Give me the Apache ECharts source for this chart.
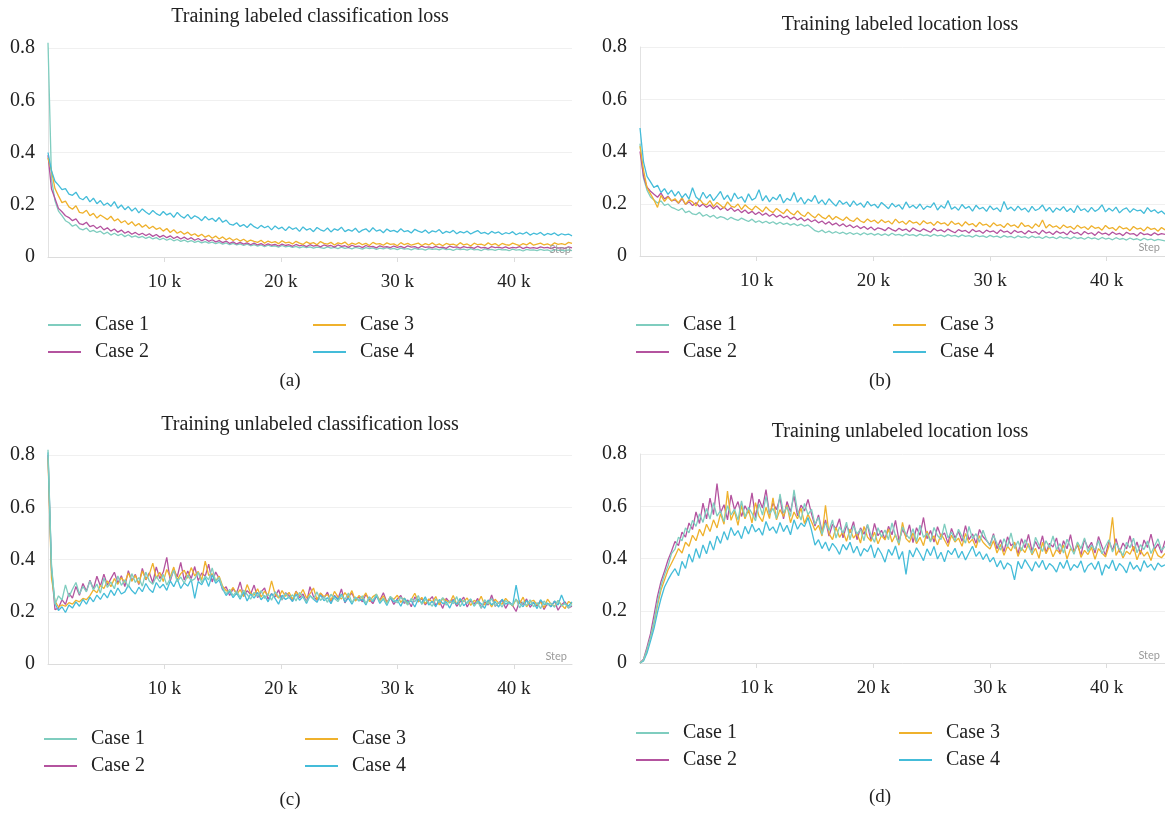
<!DOCTYPE html>
<html>
<head>
<meta charset="utf-8">
<script src="https://cdn.jsdelivr.net/npm/echarts@6/dist/echarts.min.js"></script>
<style>
html,body{margin:0;padding:0;background:#fff;}
#chart{width:1165px;height:821px;}
</style>
</head>
<body>
<div id="chart"></div>
<script>
const caseNames = ['Case 1', 'Case 2', 'Case 3', 'Case 4'];
const panelTitles = ['Training labeled classification loss', 'Training labeled location loss', 'Training unlabeled classification loss', 'Training unlabeled location loss'];
const captions = ['(a)', '(b)', '(c)', '(d)'];
const xTickValues = [10000, 20000, 30000, 40000];
const yTickValues = [0, 0.2, 0.4, 0.6, 0.8];

const steps = [
0,300,600,900,1200,1500,1800,2100,2400,2700,
3000,3300,3600,3900,4200,4500,4800,5100,5400,5700,
6000,6300,6600,6900,7200,7500,7800,8100,8400,8700,
9000,9300,9600,9900,10200,10500,10800,11100,11400,11700,
12000,12300,12600,12900,13200,13500,13800,14100,14400,14700,
15000,15300,15600,15900,16200,16500,16800,17100,17400,17700,
18000,18300,18600,18900,19200,19500,19800,20100,20400,20700,
21000,21300,21600,21900,22200,22500,22800,23100,23400,23700,
24000,24300,24600,24900,25200,25500,25800,26100,26400,26700,
27000,27300,27600,27900,28200,28500,28800,29100,29400,29700,
30000,30300,30600,30900,31200,31500,31800,32100,32400,32700,
33000,33300,33600,33900,34200,34500,34800,35100,35400,35700,
36000,36300,36600,36900,37200,37500,37800,38100,38400,38700,
39000,39300,39600,39900,40200,40500,40800,41100,41400,41700,
42000,42300,42600,42900,43200,43500,43800,44100,44400,44700,
45000];

// (a) Training labeled classification loss
const labeledClsCase1 = [
0.82,0.3,0.215,0.176,0.158,0.139,0.131,0.118,0.124,0.109,
0.104,0.111,0.097,0.102,0.094,0.099,0.088,0.095,0.084,0.091,
0.082,0.088,0.078,0.085,0.076,0.081,0.074,0.079,0.071,0.077,
0.069,0.074,0.066,0.072,0.064,0.07,0.062,0.067,0.06,0.065,
0.058,0.063,0.056,0.061,0.054,0.059,0.053,0.057,0.051,0.056,
0.049,0.054,0.047,0.052,0.046,0.05,0.044,0.049,0.043,0.047,
0.042,0.046,0.04,0.045,0.041,0.043,0.038,0.044,0.039,0.042,
0.037,0.041,0.035,0.04,0.036,0.039,0.034,0.038,0.036,0.033,
0.039,0.034,0.037,0.032,0.038,0.033,0.036,0.031,0.037,0.034,
0.03,0.036,0.032,0.035,0.029,0.034,0.031,0.036,0.03,0.033,
0.028,0.034,0.03,0.032,0.027,0.033,0.029,0.031,0.026,0.032,
0.029,0.031,0.027,0.033,0.028,0.03,0.025,0.031,0.028,0.03,
0.026,0.032,0.027,0.029,0.024,0.031,0.027,0.029,0.025,0.03,
0.027,0.028,0.024,0.03,0.026,0.028,0.023,0.029,0.026,0.027,
0.024,0.029,0.025,0.027,0.022,0.028,0.025,0.026,0.023,0.027,
0.024];
const labeledClsCase2 = [
0.39,0.26,0.224,0.186,0.173,0.158,0.151,0.139,0.146,0.128,
0.124,0.133,0.116,0.121,0.109,0.118,0.104,0.112,0.099,0.107,
0.095,0.103,0.091,0.098,0.087,0.094,0.085,0.091,0.082,0.089,
0.079,0.086,0.076,0.083,0.074,0.081,0.071,0.078,0.069,0.076,
0.067,0.074,0.064,0.071,0.062,0.069,0.06,0.066,0.058,0.063,
0.055,0.061,0.052,0.058,0.05,0.056,0.049,0.054,0.047,0.053,
0.046,0.051,0.044,0.05,0.045,0.048,0.042,0.049,0.044,0.047,
0.041,0.048,0.043,0.046,0.04,0.047,0.042,0.045,0.039,0.046,
0.042,0.044,0.038,0.046,0.041,0.043,0.037,0.045,0.04,0.042,
0.036,0.044,0.039,0.041,0.035,0.043,0.038,0.04,0.036,0.042,
0.037,0.041,0.035,0.043,0.038,0.04,0.034,0.042,0.037,0.039,
0.035,0.041,0.036,0.038,0.033,0.042,0.037,0.039,0.034,0.04,
0.036,0.038,0.033,0.041,0.035,0.037,0.032,0.04,0.036,0.038,
0.034,0.039,0.033,0.037,0.035,0.04,0.032,0.038,0.034,0.036,
0.033,0.039,0.035,0.037,0.032,0.038,0.034,0.036,0.033,0.039,
0.035];
const labeledClsCase3 = [
0.38,0.33,0.262,0.234,0.208,0.214,0.192,0.183,0.196,0.171,
0.168,0.179,0.158,0.167,0.149,0.161,0.152,0.143,0.156,0.138,
0.146,0.131,0.139,0.124,0.135,0.119,0.128,0.114,0.123,0.109,
0.118,0.106,0.112,0.099,0.109,0.094,0.104,0.091,0.098,0.087,
0.095,0.083,0.089,0.079,0.087,0.076,0.083,0.072,0.08,0.069,
0.077,0.066,0.073,0.063,0.07,0.061,0.068,0.058,0.065,0.06,
0.056,0.064,0.053,0.061,0.055,0.059,0.051,0.062,0.054,0.057,
0.05,0.06,0.053,0.048,0.058,0.051,0.055,0.047,0.059,0.052,
0.049,0.056,0.046,0.054,0.05,0.057,0.045,0.053,0.048,0.055,
0.047,0.052,0.044,0.056,0.049,0.051,0.045,0.054,0.048,0.05,
0.043,0.055,0.047,0.052,0.045,0.049,0.053,0.044,0.051,0.046,
0.054,0.045,0.05,0.043,0.052,0.047,0.049,0.044,0.055,0.046,
0.05,0.042,0.053,0.047,0.049,0.044,0.054,0.046,0.051,0.043,
0.052,0.047,0.045,0.053,0.048,0.044,0.051,0.046,0.055,0.045,
0.049,0.053,0.046,0.05,0.044,0.054,0.048,0.051,0.047,0.056,
0.052];
const labeledClsCase4 = [
0.40,0.33,0.29,0.275,0.258,0.262,0.241,0.236,0.248,0.226,
0.219,0.232,0.211,0.225,0.204,0.216,0.198,0.207,0.194,0.212,
0.187,0.199,0.181,0.193,0.176,0.188,0.169,0.184,0.172,0.163,
0.178,0.166,0.159,0.174,0.161,0.168,0.152,0.171,0.157,0.149,
0.163,0.146,0.158,0.151,0.139,0.155,0.142,0.148,0.136,0.151,
0.133,0.141,0.126,0.122,0.131,0.117,0.124,0.113,0.127,0.116,
0.109,0.121,0.112,0.118,0.104,0.119,0.108,0.114,0.101,0.116,
0.106,0.112,0.098,0.115,0.103,0.109,0.097,0.113,0.104,0.099,
0.111,0.096,0.108,0.102,0.114,0.097,0.105,0.099,0.11,0.094,
0.103,0.108,0.096,0.112,0.099,0.104,0.093,0.107,0.098,0.102,
0.095,0.108,0.097,0.101,0.092,0.106,0.099,0.094,0.103,0.091,
0.1,0.096,0.105,0.09,0.098,0.093,0.102,0.089,0.097,0.092,
0.099,0.088,0.095,0.101,0.09,0.094,0.087,0.098,0.091,0.096,
0.086,0.093,0.089,0.097,0.085,0.092,0.088,0.095,0.084,0.091,
0.087,0.094,0.083,0.09,0.086,0.092,0.082,0.089,0.085,0.088,
0.081];

// (b) Training labeled location loss
const labeledLocCase1 = [
0.43,0.298,0.252,0.226,0.214,0.203,0.211,0.194,0.199,0.186,
0.181,0.174,0.183,0.166,0.172,0.161,0.158,0.167,0.152,0.159,
0.149,0.156,0.144,0.151,0.147,0.139,0.148,0.141,0.136,0.145,
0.138,0.132,0.141,0.129,0.135,0.127,0.133,0.125,0.131,0.122,
0.129,0.121,0.126,0.118,0.124,0.116,0.122,0.114,0.119,0.108,
0.097,0.092,0.099,0.089,0.095,0.087,0.093,0.086,0.091,0.084,
0.09,0.083,0.088,0.081,0.089,0.082,0.087,0.08,0.086,0.079,
0.085,0.078,0.087,0.08,0.083,0.077,0.085,0.079,0.082,0.076,
0.084,0.078,0.081,0.075,0.083,0.077,0.08,0.074,0.082,0.076,
0.079,0.073,0.081,0.075,0.078,0.072,0.08,0.074,0.077,0.071,
0.079,0.073,0.076,0.07,0.078,0.072,0.075,0.069,0.077,0.071,
0.074,0.068,0.076,0.07,0.073,0.067,0.075,0.069,0.072,0.066,
0.074,0.068,0.071,0.065,0.073,0.067,0.07,0.064,0.072,0.066,
0.069,0.063,0.071,0.065,0.068,0.062,0.07,0.064,0.067,0.061,
0.069,0.063,0.066,0.06,0.068,0.062,0.065,0.059,0.064,0.061,
0.058];
const labeledLocCase2 = [
0.4,0.305,0.263,0.248,0.236,0.225,0.241,0.218,0.229,0.211,
0.215,0.202,0.219,0.197,0.208,0.193,0.204,0.189,0.199,0.186,
0.195,0.181,0.192,0.177,0.188,0.174,0.185,0.171,0.179,0.166,
0.176,0.163,0.171,0.159,0.168,0.156,0.164,0.152,0.161,0.149,
0.157,0.146,0.153,0.141,0.149,0.138,0.146,0.134,0.142,0.131,
0.139,0.127,0.134,0.122,0.131,0.119,0.126,0.115,0.123,0.112,
0.119,0.108,0.116,0.105,0.113,0.102,0.111,0.099,0.108,0.104,
0.097,0.109,0.101,0.095,0.106,0.098,0.103,0.093,0.107,0.099,
0.094,0.104,0.097,0.091,0.105,0.096,0.1,0.092,0.103,0.095,
0.089,0.101,0.094,0.098,0.088,0.102,0.093,0.097,0.087,0.099,
0.092,0.096,0.086,0.1,0.091,0.095,0.085,0.098,0.09,0.094,
0.084,0.097,0.089,0.093,0.083,0.099,0.088,0.092,0.082,0.095,
0.087,0.091,0.081,0.096,0.086,0.09,0.08,0.094,0.085,0.089,
0.079,0.093,0.084,0.088,0.08,0.092,0.083,0.087,0.078,0.091,
0.084,0.086,0.077,0.09,0.082,0.085,0.079,0.089,0.081,0.086,
0.083];
const labeledLocCase3 = [
0.42,0.33,0.262,0.238,0.214,0.186,0.232,0.209,0.226,0.211,
0.219,0.203,0.224,0.198,0.215,0.207,0.192,0.218,0.201,0.196,
0.212,0.189,0.205,0.194,0.183,0.207,0.191,0.186,0.199,0.178,
0.196,0.184,0.175,0.191,0.181,0.169,0.188,0.174,0.166,0.182,
0.171,0.162,0.179,0.165,0.157,0.173,0.159,0.151,0.168,0.155,
0.146,0.161,0.149,0.142,0.156,0.139,0.151,0.143,0.136,0.149,
0.137,0.132,0.146,0.134,0.128,0.142,0.131,0.137,0.125,0.139,
0.128,0.134,0.122,0.141,0.127,0.133,0.121,0.136,0.126,0.13,
0.119,0.135,0.124,0.129,0.117,0.132,0.123,0.127,0.116,0.133,
0.121,0.126,0.114,0.131,0.119,0.124,0.112,0.129,0.118,0.122,
0.111,0.127,0.116,0.12,0.109,0.125,0.114,0.119,0.108,0.128,
0.113,0.117,0.106,0.123,0.112,0.138,0.107,0.121,0.11,0.115,
0.104,0.119,0.109,0.113,0.102,0.118,0.107,0.112,0.101,0.116,
0.106,0.11,0.099,0.117,0.105,0.109,0.098,0.114,0.104,0.108,
0.097,0.113,0.103,0.107,0.096,0.111,0.102,0.106,0.095,0.109,
0.1];
const labeledLocCase4 = [
0.49,0.36,0.305,0.284,0.262,0.271,0.243,0.258,0.236,0.252,
0.229,0.247,0.223,0.239,0.218,0.261,0.226,0.214,0.244,0.221,
0.236,0.212,0.229,0.247,0.216,0.233,0.209,0.241,0.219,0.227,
0.205,0.238,0.214,0.222,0.254,0.211,0.231,0.207,0.225,0.215,
0.236,0.203,0.221,0.212,0.243,0.206,0.224,0.199,0.218,0.209,
0.232,0.201,0.215,0.196,0.219,0.204,0.191,0.213,0.198,0.207,
0.189,0.211,0.194,0.203,0.186,0.209,0.192,0.198,0.184,0.205,
0.193,0.181,0.202,0.188,0.196,0.179,0.207,0.185,0.194,0.182,
0.199,0.178,0.191,0.186,0.204,0.176,0.193,0.183,0.212,0.179,
0.188,0.175,0.197,0.182,0.19,0.172,0.194,0.18,0.186,0.171,
0.192,0.177,0.184,0.169,0.209,0.178,0.187,0.173,0.191,0.176,
0.183,0.168,0.19,0.174,0.181,0.195,0.172,0.186,0.167,0.184,
0.175,0.189,0.17,0.182,0.166,0.193,0.174,0.181,0.168,0.186,
0.171,0.179,0.196,0.169,0.183,0.172,0.187,0.165,0.178,0.184,
0.167,0.181,0.173,0.176,0.163,0.185,0.17,0.177,0.164,0.172,
0.16];

// (c) Training unlabeled classification loss
const unlabeledClsCase1 = [
0.82,0.38,0.228,0.261,0.245,0.303,0.257,0.286,0.312,0.268,
0.297,0.276,0.318,0.284,0.306,0.271,0.329,0.293,0.314,0.288,
0.337,0.301,0.322,0.294,0.346,0.312,0.331,0.298,0.352,0.318,
0.305,0.336,0.314,0.343,0.302,0.327,0.359,0.315,0.333,0.309,
0.341,0.318,0.326,0.351,0.311,0.337,0.322,0.368,0.316,0.331,
0.292,0.268,0.286,0.262,0.279,0.255,0.283,0.266,0.248,0.274,
0.259,0.281,0.251,0.269,0.244,0.277,0.258,0.246,0.271,0.253,
0.265,0.241,0.274,0.256,0.238,0.262,0.249,0.276,0.243,0.258,
0.236,0.267,0.251,0.239,0.263,0.247,0.272,0.235,0.256,0.244,
0.261,0.232,0.254,0.243,0.268,0.237,0.252,0.229,0.259,0.245,
0.234,0.256,0.241,0.226,0.251,0.238,0.262,0.228,0.247,0.235,
0.221,0.249,0.236,0.254,0.225,0.242,0.231,0.258,0.219,0.245,
0.232,0.248,0.223,0.239,0.214,0.246,0.229,0.251,0.222,0.237,
0.218,0.243,0.231,0.226,0.249,0.215,0.238,0.224,0.246,0.219,
0.235,0.212,0.241,0.226,0.233,0.217,0.244,0.222,0.231,0.214,
0.228];
const unlabeledClsCase2 = [
0.8,0.36,0.208,0.214,0.246,0.228,0.271,0.252,0.297,0.263,
0.308,0.279,0.321,0.287,0.336,0.298,0.344,0.302,0.327,0.351,
0.309,0.338,0.296,0.357,0.318,0.343,0.304,0.366,0.322,0.349,
0.311,0.372,0.327,0.352,0.408,0.318,0.361,0.334,0.389,0.321,
0.356,0.327,0.373,0.319,0.348,0.336,0.382,0.314,0.352,0.327,
0.283,0.296,0.262,0.288,0.271,0.314,0.259,0.281,0.267,0.302,
0.254,0.276,0.291,0.248,0.269,0.257,0.284,0.245,0.273,0.262,
0.241,0.279,0.253,0.268,0.236,0.296,0.258,0.244,0.271,0.252,
0.275,0.239,0.262,0.249,0.287,0.234,0.259,0.271,0.243,0.256,
0.238,0.266,0.247,0.231,0.259,0.244,0.273,0.236,0.255,0.228,
0.249,0.262,0.232,0.245,0.219,0.257,0.238,0.251,0.226,0.243,
0.258,0.224,0.241,0.213,0.252,0.235,0.247,0.221,0.239,0.256,
0.218,0.243,0.229,0.251,0.214,0.238,0.226,0.264,0.221,0.234,
0.246,0.213,0.237,0.224,0.201,0.242,0.228,0.249,0.217,0.235,
0.222,0.244,0.209,0.232,0.219,0.241,0.206,0.227,0.238,0.215,
0.221];
const unlabeledClsCase3 = [
0.79,0.33,0.241,0.218,0.226,0.221,0.235,0.229,0.244,0.238,
0.251,0.246,0.262,0.284,0.273,0.301,0.289,0.318,0.296,0.327,
0.305,0.331,0.312,0.348,0.317,0.339,0.308,0.356,0.324,0.343,
0.386,0.329,0.351,0.316,0.362,0.334,0.371,0.322,0.346,0.359,
0.328,0.369,0.337,0.354,0.321,0.394,0.339,0.345,0.318,0.336,
0.298,0.281,0.274,0.293,0.266,0.285,0.259,0.304,0.271,0.263,
0.288,0.256,0.279,0.262,0.318,0.268,0.252,0.281,0.259,0.274,
0.248,0.277,0.261,0.285,0.253,0.269,0.291,0.246,0.272,0.258,
0.266,0.243,0.278,0.257,0.249,0.273,0.254,0.281,0.241,0.262,
0.251,0.272,0.239,0.258,0.267,0.243,0.261,0.234,0.256,0.248,
0.263,0.236,0.252,0.229,0.247,0.271,0.238,0.255,0.231,0.249,
0.237,0.258,0.226,0.251,0.243,0.234,0.262,0.228,0.246,0.239,
0.253,0.224,0.244,0.232,0.259,0.226,0.241,0.218,0.248,0.233,
0.229,0.251,0.236,0.222,0.247,0.231,0.256,0.219,0.238,0.244,
0.226,0.237,0.215,0.248,0.229,0.221,0.243,0.226,0.212,0.239,
0.231];
const unlabeledClsCase4 = [
0.81,0.37,0.232,0.205,0.219,0.197,0.226,0.214,0.238,0.221,
0.247,0.229,0.256,0.238,0.264,0.247,0.271,0.253,0.283,0.262,
0.291,0.268,0.276,0.302,0.281,0.268,0.294,0.277,0.308,0.286,
0.274,0.312,0.291,0.305,0.282,0.318,0.296,0.326,0.289,0.311,
0.298,0.324,0.251,0.316,0.303,0.331,0.297,0.342,0.309,0.322,
0.287,0.262,0.279,0.254,0.271,0.248,0.276,0.241,0.268,0.252,
0.274,0.246,0.262,0.238,0.269,0.251,0.229,0.263,0.247,0.256,
0.239,0.267,0.244,0.258,0.232,0.261,0.248,0.236,0.264,0.242,
0.254,0.231,0.259,0.246,0.268,0.237,0.252,0.229,0.256,0.241,
0.248,0.226,0.257,0.239,0.262,0.232,0.249,0.224,0.253,0.238,
0.245,0.221,0.252,0.236,0.242,0.218,0.249,0.233,0.257,0.226,
0.24,0.219,0.247,0.231,0.238,0.214,0.244,0.228,0.251,0.223,
0.236,0.249,0.221,0.242,0.231,0.213,0.245,0.226,0.239,0.218,
0.248,0.229,0.237,0.224,0.302,0.232,0.219,0.243,0.227,0.236,
0.212,0.246,0.228,0.233,0.219,0.241,0.226,0.264,0.231,0.222,
0.238];

// (d) Training unlabeled location loss
const unlabeledLocCase1 = [
0,0.012,0.052,0.098,0.158,0.232,0.294,0.338,0.371,0.419,
0.436,0.482,0.468,0.517,0.498,0.546,0.523,0.571,0.538,0.592,
0.551,0.614,0.562,0.583,0.541,0.602,0.567,0.589,0.548,0.621,
0.559,0.596,0.573,0.544,0.609,0.566,0.638,0.571,0.592,0.553,
0.647,0.574,0.598,0.561,0.663,0.582,0.547,0.611,0.568,0.589,
0.531,0.558,0.492,0.536,0.507,0.548,0.478,0.521,0.497,0.539,
0.471,0.526,0.494,0.512,0.468,0.531,0.489,0.462,0.518,0.483,
0.509,0.472,0.536,0.487,0.458,0.521,0.493,0.476,0.514,0.465,
0.528,0.481,0.497,0.463,0.519,0.488,0.472,0.532,0.479,0.501,
0.467,0.512,0.484,0.459,0.523,0.476,0.495,0.462,0.508,0.471,
0.448,0.489,0.457,0.432,0.476,0.445,0.498,0.438,0.467,0.429,
0.472,0.446,0.419,0.481,0.452,0.427,0.468,0.441,0.486,0.434,
0.457,0.421,0.474,0.445,0.416,0.463,0.438,0.479,0.426,0.451,
0.432,0.469,0.418,0.447,0.472,0.425,0.458,0.436,0.411,0.462,
0.441,0.478,0.422,0.453,0.434,0.467,0.419,0.448,0.475,0.431,
0.446];
const unlabeledLocCase2 = [
0,0.015,0.061,0.112,0.183,0.256,0.312,0.351,0.394,0.428,
0.465,0.449,0.501,0.482,0.536,0.511,0.578,0.534,0.612,0.552,
0.631,0.568,0.687,0.574,0.606,0.548,0.643,0.587,0.618,0.561,
0.602,0.574,0.651,0.556,0.627,0.593,0.664,0.568,0.612,0.587,
0.633,0.552,0.618,0.579,0.641,0.563,0.604,0.582,0.626,0.571,
0.524,0.567,0.503,0.548,0.486,0.531,0.514,0.552,0.479,0.526,
0.498,0.541,0.472,0.517,0.493,0.528,0.469,0.534,0.487,0.508,
0.474,0.523,0.491,0.546,0.468,0.512,0.483,0.529,0.461,0.518,
0.489,0.557,0.476,0.507,0.463,0.522,0.484,0.498,0.458,0.515,
0.479,0.503,0.466,0.526,0.472,0.494,0.458,0.511,0.483,0.469,
0.452,0.495,0.437,0.472,0.426,0.483,0.449,0.461,0.418,0.476,
0.441,0.492,0.428,0.465,0.436,0.487,0.422,0.458,0.444,0.479,
0.417,0.468,0.437,0.491,0.425,0.452,0.414,0.473,0.439,0.462,
0.421,0.484,0.446,0.412,0.468,0.431,0.476,0.424,0.459,0.437,
0.487,0.428,0.463,0.416,0.471,0.442,0.493,0.435,0.456,0.421,
0.468];
const unlabeledLocCase3 = [
0,0.01,0.048,0.094,0.152,0.221,0.279,0.318,0.356,0.382,
0.409,0.438,0.421,0.462,0.447,0.489,0.468,0.512,0.486,0.531,
0.503,0.548,0.517,0.572,0.531,0.658,0.546,0.581,0.527,0.603,
0.552,0.587,0.536,0.614,0.562,0.541,0.596,0.553,0.632,0.548,
0.587,0.561,0.604,0.537,0.578,0.552,0.593,0.534,0.569,0.541,
0.508,0.527,0.486,0.604,0.495,0.472,0.519,0.481,0.503,0.466,
0.512,0.478,0.497,0.459,0.523,0.482,0.466,0.501,0.456,0.488,
0.471,0.513,0.463,0.492,0.451,0.538,0.476,0.462,0.498,0.457,
0.481,0.449,0.505,0.468,0.487,0.452,0.494,0.471,0.446,0.489,
0.463,0.478,0.447,0.496,0.459,0.474,0.441,0.487,0.462,0.448,
0.436,0.468,0.421,0.454,0.412,0.447,0.429,0.463,0.408,0.441,
0.423,0.457,0.414,0.439,0.401,0.462,0.418,0.446,0.407,0.435,
0.419,0.452,0.398,0.437,0.426,0.459,0.404,0.431,0.415,0.443,
0.397,0.438,0.421,0.406,0.449,0.558,0.412,0.437,0.402,0.428,
0.416,0.447,0.395,0.431,0.409,0.425,0.392,0.438,0.411,0.403,
0.419];
const unlabeledLocCase4 = [
0,0.008,0.038,0.084,0.132,0.194,0.247,0.291,0.318,0.342,
0.361,0.334,0.389,0.362,0.417,0.386,0.438,0.401,0.452,0.418,
0.467,0.432,0.486,0.458,0.503,0.471,0.519,0.488,0.507,0.476,
0.523,0.494,0.531,0.502,0.516,0.489,0.542,0.507,0.521,0.496,
0.538,0.503,0.527,0.491,0.548,0.512,0.536,0.522,0.557,0.509,
0.451,0.472,0.438,0.463,0.429,0.458,0.441,0.416,0.454,0.433,
0.462,0.421,0.447,0.409,0.438,0.426,0.452,0.403,0.441,0.418,
0.386,0.435,0.412,0.448,0.397,0.427,0.339,0.432,0.406,0.441,
0.418,0.392,0.437,0.411,0.446,0.398,0.424,0.387,0.431,0.415,
0.439,0.402,0.428,0.394,0.421,0.447,0.408,0.426,0.396,0.418,
0.387,0.404,0.368,0.392,0.359,0.383,0.372,0.318,0.389,0.361,
0.396,0.374,0.352,0.388,0.366,0.393,0.357,0.381,0.369,0.348,
0.386,0.362,0.394,0.354,0.377,0.365,0.391,0.347,0.372,0.383,
0.358,0.389,0.336,0.376,0.362,0.394,0.353,0.381,0.368,0.345,
0.387,0.359,0.374,0.351,0.392,0.366,0.378,0.355,0.383,0.369,
0.376];

const panelData = [
  [labeledClsCase1, labeledClsCase2, labeledClsCase3, labeledClsCase4],
  [labeledLocCase1, labeledLocCase2, labeledLocCase3, labeledLocCase4],
  [unlabeledClsCase1, unlabeledClsCase2, unlabeledClsCase3, unlabeledClsCase4],
  [unlabeledLocCase1, unlabeledLocCase2, unlabeledLocCase3, unlabeledLocCase4]
];

const caseColors = ['#7fcdbf', '#b4539f', '#efb12c', '#44bcd9'];
const serif = '"Liberation Serif", "DejaVu Serif", serif';

// layout (pixels)
const grids = [
  {left: 48, top: 48, width: 524, height: 209},
  {left: 640, top: 47, width: 525, height: 209},
  {left: 48, top: 455, width: 524, height: 209},
  {left: 640, top: 454, width: 525, height: 209}
];
const titlePos = [[310, 17], [900, 25], [310, 425], [900, 432]];
const captionPos = [[290, 381], [880, 381], [290, 800], [880, 797]];
const stepPos = [[571, 249], [1160, 247], [567, 656], [1160, 655]];
const legendPos = [
  [[48, 315], [313, 315]],
  [[636, 315], [893, 315]],
  [[44, 729], [305, 729]],
  [[636, 723], [899, 723]]
];

const chart = echarts.init(document.getElementById('chart'), null, {renderer: 'canvas'});

const xAxes = [], yAxes = [], series = [], legends = [], graphics = [];
for (let p = 0; p < 4; p++) {
  xAxes.push({
    type: 'value', gridIndex: p, min: 0, max: 45000, interval: 10000,
    axisLine: {show: true, lineStyle: {color: '#dcdcdc', width: 1}},
    axisTick: {show: true, length: 5, lineStyle: {color: '#dcdcdc'}},
    axisLabel: {
      showMinLabel: false, showMaxLabel: false, margin: 16,
      fontFamily: serif, fontSize: 19, color: '#222',
      formatter: v => (xTickValues.indexOf(v) >= 0 ? (v / 1000) + ' k' : '')
    },
    splitLine: {show: false}
  });
  yAxes.push({
    type: 'value', gridIndex: p, min: 0, max: 0.8, interval: 0.2,
    axisLine: {show: true, lineStyle: {color: '#e2e2e2', width: 1}},
    axisTick: {show: false},
    axisLabel: {
      margin: 13, fontFamily: serif, fontSize: 20, color: '#222',
      formatter: v => (yTickValues.indexOf(Math.round(v * 10) / 10) >= 0 ? (v === 0 ? '0' : v.toFixed(1)) : '')
    },
    splitLine: {show: true, lineStyle: {color: '#f0f0f0', width: 1}}
  });
  for (let k = 0; k < 4; k++) {
    const vals = panelData[p][k];
    series.push({
      type: 'line', name: caseNames[k], xAxisIndex: p, yAxisIndex: p,
      data: steps.map((s, i) => [s, vals[i]]),
      symbol: 'none', clip: false, animation: false,
      z: (p >= 2 && k === 0) ? 4 : 2 + k * 0.1,
      lineStyle: {color: caseColors[k], width: 1.3},
      itemStyle: {color: caseColors[k]}
    });
  }
  for (let c = 0; c < 2; c++) {
    legends.push({
      orient: 'vertical', left: legendPos[p][c][0], top: legendPos[p][c][1],
      padding: 0, itemGap: 7, itemWidth: 33, itemHeight: 2, icon: 'rect',
      data: [caseNames[c * 2], caseNames[c * 2 + 1]],
      textStyle: {fontFamily: serif, fontSize: 20, color: '#222', lineHeight: 20, padding: [0, 0, 0, 9]},
      selectedMode: false
    });
  }
  graphics.push({
    type: 'text', x: titlePos[p][0], y: titlePos[p][1],
    style: {text: panelTitles[p], font: '20px ' + serif, fill: '#222', textAlign: 'center', textVerticalAlign: 'middle'}
  });
  graphics.push({
    type: 'text', x: captionPos[p][0], y: captionPos[p][1],
    style: {text: captions[p], font: '19px ' + serif, fill: '#222', textAlign: 'center', textVerticalAlign: 'middle'}
  });
  graphics.push({
    type: 'text', x: stepPos[p][0], y: stepPos[p][1], z: 10,
    style: {text: 'Step', font: '11px Lato, "Open Sans", sans-serif', fill: '#9a9a9a', textAlign: 'right', textVerticalAlign: 'middle'}
  });
}

chart.setOption({
  backgroundColor: '#ffffff',
  animation: false,
  grid: grids,
  xAxis: xAxes,
  yAxis: yAxes,
  legend: legends,
  series: series,
  graphic: graphics
});
</script>
</body>
</html>
